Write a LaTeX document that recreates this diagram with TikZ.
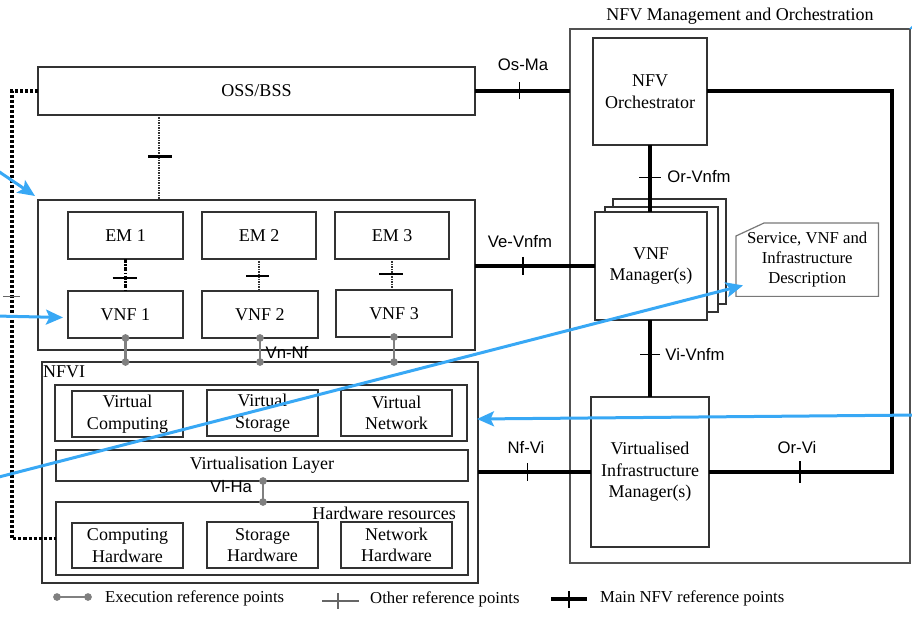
\documentclass[tikz,border=0pt]{standalone}
\usepackage{fontspec}
\setmainfont{Liberation Serif}
\newfontfamily\labelsans{Liberation Sans}
\usetikzlibrary{arrows.meta,calc}
\definecolor{linegray}{RGB}{50,50,50}
\definecolor{execgray}{RGB}{128,128,128}
\definecolor{descgray}{RGB}{120,120,120}
\definecolor{callout}{RGB}{56,168,245}
\newcommand\diagtext{\fontsize{18}{21.5}\selectfont}
\newcommand\diagsmall{\fontsize{16.7}{20}\selectfont}
\begin{document}
\begin{tikzpicture}[x=1pt,y=-1pt,
  box/.style={draw=linegray, line width=1.1pt, fill=white, inner sep=0pt, outer sep=0pt,
    align=center, anchor=north west, font=\diagtext},
  plain/.style={inner sep=0pt, font=\diagtext},
  reflabel/.style={inner sep=0pt, font=\labelsans\diagsmall},
  legendtext/.style={inner sep=0pt, anchor=west, font=\diagsmall},
  mainref/.style={line width=4pt, black},
  tickthin/.style={line width=1.3pt, black},
  tickthick/.style={line width=2.6pt, black},
  exec/.style={draw=execgray, line width=2.6pt,
    {Circle[length=7.5pt]}-{Circle[length=7.5pt]}, shorten <=-3.75pt, shorten >=-3.75pt},
  emdashdot/.style={line width=2.4pt, black, dash pattern=on 4pt off 1.5pt on 1.5pt off 1.5pt},
  emdotted/.style={line width=1.6pt, black!80, dash pattern=on 1.2pt off 1.3pt},
  ossdotted/.style={line width=1.6pt, black!80, dash pattern=on 1.2pt off 1.3pt},
  mgmtdots/.style={line width=3.5pt, black, dash pattern=on 3pt off 2pt},
  otherref/.style={line width=1.2pt, black!60},
  descline/.style={draw=descgray, line width=1.2pt},
  callarrow/.style={draw=callout, line width=3pt,
    -{Stealth[length=17pt, width=15pt, inset=3.5pt]}}]

\useasboundingbox (0,0) rectangle (912,617);
\clip (0,0) rectangle (912,617);

% ---------- OSS/BSS and the VNF domain ----------
\node[box, minimum width=437pt, minimum height=48pt] (oss) at (38,67) {OSS/BSS};
\node[box, minimum width=437pt, minimum height=150pt] (vnfdom) at (38,200) {};
\node[box, minimum width=115pt, minimum height=47pt] (em1) at (68,212) {EM 1};
\node[box, minimum width=114pt, minimum height=47pt] (em2) at (202,212) {EM 2};
\node[box, minimum width=114pt, minimum height=47pt] (em3) at (335,212) {EM 3};
\node[box, minimum width=115pt, minimum height=47pt] (vnf1) at (68,291) {VNF 1};
\node[box, minimum width=116pt, minimum height=47pt] (vnf2) at (202,291) {VNF 2};
\node[box, minimum width=116pt, minimum height=47pt] (vnf3) at (336,290) {VNF 3};

% ---------- NFVI ----------
\node[box, minimum width=436pt, minimum height=221pt] (nfvi) at (42,362) {};
\node[plain, anchor=base west] (nfvilbl) at (43,377) {NFVI};
\node[box, minimum width=412pt, minimum height=56pt] (vgroup) at (55,385) {};
\node[box, minimum width=111pt, minimum height=46pt] (vcomp) at (72,391) {Virtual\\Computing};
\node[box, minimum width=111pt, minimum height=46pt] (vstor) at (207,390) {Virtual\\Storage};
\node[box, minimum width=111pt, minimum height=46pt] (vnet) at (341,390) {Virtual\\Network};
\node[box, minimum width=412pt, minimum height=31pt] (vlayer) at (56,450) {Virtualisation Layer};
\node[box, minimum width=412pt, minimum height=73pt] (hw) at (56,502) {};
\node[plain, anchor=base east] (hwlbl) at (456,519) {Hardware resources};
\node[box, minimum width=111pt, minimum height=45pt] (chw) at (72,523) {Computing\\Hardware};
\node[box, minimum width=111pt, minimum height=46pt] (shw) at (207,522) {Storage\\Hardware};
\node[box, minimum width=111pt, minimum height=46pt] (nhw) at (341,522) {Network\\Hardware};

% ---------- NFV Management and Orchestration ----------
\node[box, draw=linegray!85, minimum width=340pt, minimum height=534pt] (mano) at (570,29) {};
\node[plain, anchor=base] (manolbl) at (740,21) {NFV Management and Orchestration};
\node[box, minimum width=114pt, minimum height=107pt] (orch) at (593,38) {NFV\\Orchestrator};
\node[box, minimum width=113pt, minimum height=105pt] (vnfm3) at (613,199) {};
\node[box, minimum width=113pt, minimum height=105pt] (vnfm2) at (605,207) {};
\node[box, minimum width=112pt, minimum height=108pt] (vnfm) at (595,212) {VNF\\Manager(s)};
\node[box, minimum width=118pt, minimum height=150pt] (vim) at (591,397)
  {Virtualised\\Infrastructure\\Manager(s)};
\node[inner sep=0pt, minimum width=142pt, minimum height=73pt, anchor=north west,
  align=center, font=\diagsmall] (desc) at (736,223)
  {Service, VNF and\\Infrastructure\\Description};
\draw[descline] ($(desc.north west)+(0,13)$) -- ($(desc.north west)+(28,0)$)
  -- (desc.north east) -- (desc.south east) -- (desc.south west) -- cycle;

% ---------- helper coordinates for routed lines ----------
\coordinate (lx) at (12,0);
\coordinate (ox) at (159,0);
\coordinate (rx) at (892,0);
\coordinate (vx) at (263,0);

% ---------- main NFV reference points ----------
\draw[mainref] (oss.east) -- coordinate[pos=0.47] (tOsMa) (oss.east -| mano.west);
\draw[tickthin] ($(tOsMa)+(0,-8.5)$) -- ($(tOsMa)+(0,8.5)$);
\node[reflabel] (lOsMa) at (523,65) {Os-Ma};

\draw[mainref] (vnfdom.east |- vnfm.west) -- coordinate[pos=0.4] (tVe) (vnfm.west);
\draw[tickthin] ($(tVe)+(0,-9)$) -- ($(tVe)+(0,9)$);
\node[reflabel] (lVe) at (520,242) {Ve-Vnfm};

\draw[mainref] (orch.south) -- coordinate[pos=0.48] (tOrVnfm) (orch.south |- vnfm.north);
\draw[tickthin] ($(tOrVnfm)+(-11,0)$) -- ($(tOrVnfm)+(11,0)$);
\node[reflabel] (lOrVnfm) at (699,177) {Or-Vnfm};

\draw[mainref] (vnfm.south -| orch.south) -- coordinate[pos=0.45] (tViVnfm) (vim.north -| orch.south);
\draw[tickthin] ($(tViVnfm)+(-10,0)$) -- ($(tViVnfm)+(10,0)$);
\node[reflabel] (lViVnfm) at (695,354) {Vi-Vnfm};

\draw[mainref] (nfvi.east |- vim.west) -- coordinate[pos=0.44] (tNfVi) (vim.west);
\draw[tickthin] ($(tNfVi)+(0,-9)$) -- ($(tNfVi)+(0,9)$);
\node[reflabel] (lNfVi) at (526,447) {Nf-Vi};

\draw[mainref, line join=miter] (orch.east) -- (orch.east -| rx) -- (vim.east -| rx)
  -- coordinate[pos=0.503] (tOrVi) (vim.east);
\draw[tickthin] ($(tOrVi)+(0,-11)$) -- ($(tOrVi)+(0,11)$);
\node[reflabel] (lOrVi) at (797,448) {Or-Vi};

% ---------- other reference points ----------
\draw[ossdotted] (oss.south -| ox) -- coordinate[pos=0.49] (tOss) (vnfdom.north -| ox);
\draw[tickthick] ($(tOss)+(-11,0)$) -- ($(tOss)+(13,0)$);

\draw[emdashdot] (em1.south) -- coordinate[pos=0.59] (tE1) (em1.south |- vnf1.north);
\draw[tickthick] ($(tE1)+(-13,0)$) -- ($(tE1)+(11,0)$);
\draw[emdotted] (em2.south) -- coordinate[pos=0.53] (tE2) (em2.south |- vnf2.north);
\draw[tickthick] ($(tE2)+(-13,0)$) -- ($(tE2)+(10,0)$);
\draw[emdotted] (em3.south) -- coordinate[pos=0.48] (tE3) (em3.south |- vnf3.north);
\draw[tickthick] ($(tE3)+(-13,0)$) -- ($(tE3)+(11,0)$);

\draw[mgmtdots] (oss.west) -- (oss.west -| lx) -- coordinate[pos=0.46] (tLeft) (hw.west -| lx)
  -- (hw.west);
\draw[otherref] ($(tLeft)+(-9,0)$) -- ($(tLeft)+(8,0)$);

% ---------- execution reference points ----------
\draw[exec] (vnf1.south) -- (vnf1.south |- nfvi.north);
\draw[exec] (vnf2.south) -- (vnf2.south |- nfvi.north);
\draw[exec] (vnf3.south) -- (vnf3.south |- nfvi.north);
\node[reflabel] (lVnNf) at (287,352) {Vn-Nf};
\draw[exec] (vlayer.south -| vx) -- (hw.north -| vx);
\node[reflabel] (lVlHa) at (231,487) {Vl-Ha};

% ---------- legend ----------
\coordinate (lgExecA) at (57,597);
\coordinate (lgExecB) at (88,597);
\draw[exec] (lgExecA) -- (lgExecB);
\node[legendtext] (lgExecT) at (105,598) {Execution reference points};

\coordinate (lgOthA) at (322,601);
\coordinate (lgOthB) at (359,601);
\draw[otherref] (lgOthA) -- coordinate[pos=0.43] (lgOthTick) (lgOthB);
\draw[otherref] ($(lgOthTick)+(0,-8)$) -- ($(lgOthTick)+(0,8)$);
\node[legendtext] (lgOthT) at (370,599) {Other reference points};

\coordinate (lgMainA) at (551,599);
\coordinate (lgMainB) at (587,599);
\draw[line width=3.5pt, black] (lgMainA) -- coordinate[pos=0.5] (lgMainTick) (lgMainB);
\draw[tickthin] ($(lgMainTick)+(0,-8)$) -- ($(lgMainTick)+(0,9)$);
\node[legendtext] (lgMainT) at (600,598) {Main NFV reference points};

% ---------- call-out arrows ----------
\coordinate (c1) at (-5,169);
\coordinate (c2) at (-5,316);
\coordinate (c3) at (-5,478);
\coordinate (c4) at (920,415);
\coordinate (c5) at (960,8);
\draw[callarrow] (c1) -- ($(vnfdom.north west)+(-3,-4)$);
\draw[callarrow] (c2) -- ($(vnf1.west)+(-5,3)$);
\draw[callarrow] (c3) -- ($(desc.south west)+(7,-11)$);
\draw[callarrow] (c4) -- ($(nfvi.east)+(-1,-53.5)$);
\draw[callarrow] (c5) -- ($(mano.north east)+(-1,0)$);
\end{tikzpicture}
\end{document}
